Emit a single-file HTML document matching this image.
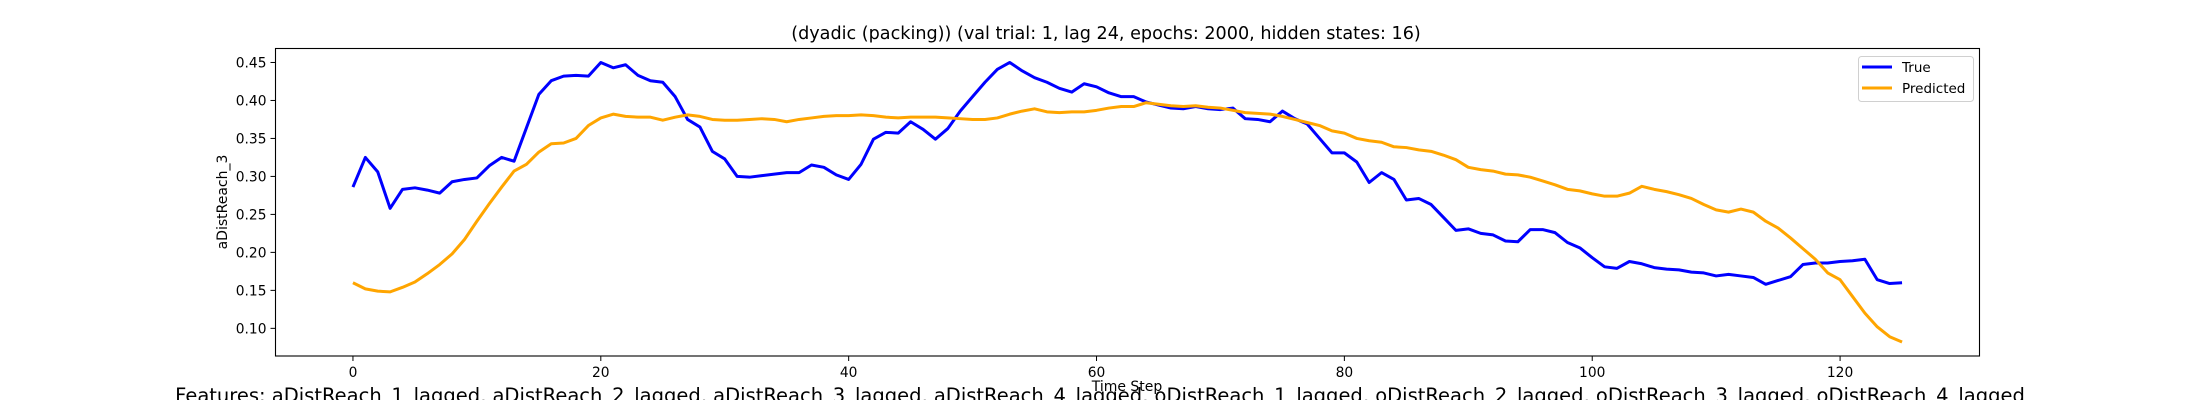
<!DOCTYPE html>
<html><head><meta charset="utf-8"><style>
html,body{margin:0;padding:0;background:#fff;}
svg{display:block;font-family:"DejaVu Sans","Liberation Sans",sans-serif;}
</style></head><body>
<svg id="chart" width="2200" height="400" viewBox="0 0 2200 400" xmlns="http://www.w3.org/2000/svg">
<rect width="2200" height="400" fill="#fff"/>
<text x="1106" y="39" text-anchor="middle" font-size="17.6" fill="#000">(dyadic (packing)) (val trial: 1, lag 24, epochs: 2000, hidden states: 16)</text>
<g id="xticks"></g>
<g id="yticks"></g>
<g id="lines"></g>
<rect x="275.5" y="48.5" width="1704" height="307.5" fill="none" stroke="#000" stroke-width="1.1"/>
<text x="1127" y="391" text-anchor="middle" font-size="14" fill="#000">Time Step</text>
<text transform="translate(227,202) rotate(-90)" text-anchor="middle" font-size="14" fill="#000">aDistReach_3</text>
<g>
<rect x="1858.5" y="56.5" width="115" height="45" rx="3" fill="#fff" fill-opacity="0.8" stroke="#d0d0d0"/>
<line x1="1862" y1="67" x2="1892" y2="67" stroke="#0000ff" stroke-width="3"/>
<text x="1902" y="72" font-size="13.5" fill="#000">True</text>
<line x1="1862" y1="88" x2="1892" y2="88" stroke="#ffa500" stroke-width="3"/>
<text x="1902" y="93" font-size="13.5" fill="#000">Predicted</text>
</g>
<text x="1100" y="402" text-anchor="middle" font-size="19.5" fill="#000">Features: aDistReach_1_lagged, aDistReach_2_lagged, aDistReach_3_lagged, aDistReach_4_lagged, oDistReach_1_lagged, oDistReach_2_lagged, oDistReach_3_lagged, oDistReach_4_lagged</text>
</svg>
<script>
const trueValues = [0.286,0.325,0.306,0.258,0.283,0.285,0.282,0.278,0.293,0.296,0.298,0.314,0.325,0.320,0.364,0.408,0.426,0.432,0.433,0.432,0.450,0.443,0.447,0.433,0.426,0.424,0.405,0.375,0.365,0.333,0.323,0.300,0.299,0.301,0.303,0.305,0.305,0.315,0.312,0.302,0.296,0.316,0.349,0.358,0.357,0.372,0.362,0.349,0.363,0.386,0.405,0.424,0.441,0.450,0.439,0.430,0.424,0.416,0.411,0.422,0.418,0.410,0.405,0.405,0.398,0.394,0.390,0.389,0.392,0.389,0.388,0.390,0.376,0.375,0.372,0.386,0.376,0.369,0.350,0.331,0.331,0.319,0.292,0.305,0.296,0.269,0.271,0.263,0.246,0.229,0.231,0.225,0.223,0.215,0.214,0.230,0.230,0.226,0.213,0.206,0.193,0.181,0.179,0.188,0.185,0.180,0.178,0.177,0.174,0.173,0.169,0.171,0.169,0.167,0.158,0.163,0.168,0.184,0.186,0.186,0.188,0.189,0.191,0.164,0.159,0.160];
const predictedValues = [0.160,0.152,0.149,0.148,0.154,0.161,0.172,0.184,0.198,0.217,0.241,0.264,0.286,0.307,0.316,0.332,0.343,0.344,0.350,0.367,0.377,0.382,0.379,0.378,0.378,0.374,0.378,0.381,0.379,0.375,0.374,0.374,0.375,0.376,0.375,0.372,0.375,0.377,0.379,0.380,0.380,0.381,0.380,0.378,0.377,0.378,0.378,0.378,0.377,0.376,0.375,0.375,0.377,0.382,0.386,0.389,0.385,0.384,0.385,0.385,0.387,0.390,0.392,0.392,0.397,0.395,0.393,0.392,0.393,0.391,0.390,0.387,0.384,0.383,0.382,0.379,0.375,0.371,0.367,0.360,0.357,0.350,0.347,0.345,0.339,0.338,0.335,0.333,0.328,0.322,0.312,0.309,0.307,0.303,0.302,0.299,0.294,0.289,0.283,0.281,0.277,0.274,0.274,0.278,0.287,0.283,0.280,0.276,0.271,0.263,0.256,0.253,0.257,0.253,0.241,0.232,0.219,0.205,0.191,0.173,0.164,0.142,0.120,0.102,0.089,0.082];
const xTickValues = [0,20,40,60,80,100,120];
const yTickValues = [0.10,0.15,0.20,0.25,0.30,0.35,0.40,0.45];
const yTickLabels = ["0.10","0.15","0.20","0.25","0.30","0.35","0.40","0.45"];

const NS = "http://www.w3.org/2000/svg";
const plotL = 275.5, plotR = 1979.5, plotT = 48.5, plotB = 356;
const n = trueValues.length;
const xMin = -0.05*(n-1), xMax = (n-1)*1.05;
const allVals = trueValues.concat(predictedValues);
const dMin = Math.min(...allVals), dMax = Math.max(...allVals);
const yMin = dMin - 0.05*(dMax-dMin), yMax = dMax + 0.05*(dMax-dMin);
function xScale(v){ return plotL + (v - xMin)/(xMax - xMin)*(plotR - plotL); }
function yScale(v){ return plotB - (v - yMin)/(yMax - yMin)*(plotB - plotT); }

const xg = document.getElementById('xticks');
xTickValues.forEach(v => {
  const x = xScale(v);
  const t = document.createElementNS(NS,'line');
  t.setAttribute('x1',x); t.setAttribute('x2',x); t.setAttribute('y1',plotB); t.setAttribute('y2',plotB+5);
  t.setAttribute('stroke','#000'); t.setAttribute('stroke-width','1');
  
  
  xg.appendChild(t);
  const l = document.createElementNS(NS,'text');
  l.setAttribute('x',x); l.setAttribute('y',377); l.setAttribute('text-anchor','middle');
  l.setAttribute('font-size','13.8');
  l.textContent = String(v);
  
  
  xg.appendChild(l);
});
const yg = document.getElementById('yticks');
yTickValues.forEach((v,i) => {
  const y = yScale(v);
  const t = document.createElementNS(NS,'line');
  t.setAttribute('x1',plotL-5); t.setAttribute('x2',plotL); t.setAttribute('y1',y); t.setAttribute('y2',y);
  t.setAttribute('stroke','#000'); t.setAttribute('stroke-width','1');
  
  
  yg.appendChild(t);
  const l = document.createElementNS(NS,'text');
  l.setAttribute('x',plotL-9); l.setAttribute('y',y+5); l.setAttribute('text-anchor','end');
  l.setAttribute('font-size','13.8');
  l.textContent = yTickLabels[i];
  
  
  yg.appendChild(l);
});
const lg = document.getElementById('lines');
function drawLine(vals, color, name){
  const p = document.createElementNS(NS,'polyline');
  p.setAttribute('points', vals.map((v,i)=>xScale(i).toFixed(2)+','+yScale(v).toFixed(2)).join(' '));
  p.setAttribute('fill','none'); p.setAttribute('stroke',color); p.setAttribute('stroke-width','3');
  p.setAttribute('stroke-linejoin','round');
  
  
  lg.appendChild(p);
}
drawLine(trueValues,'#0000ff','true-line');
drawLine(predictedValues,'#ffa500','predicted-line');
</script>
</body></html>
